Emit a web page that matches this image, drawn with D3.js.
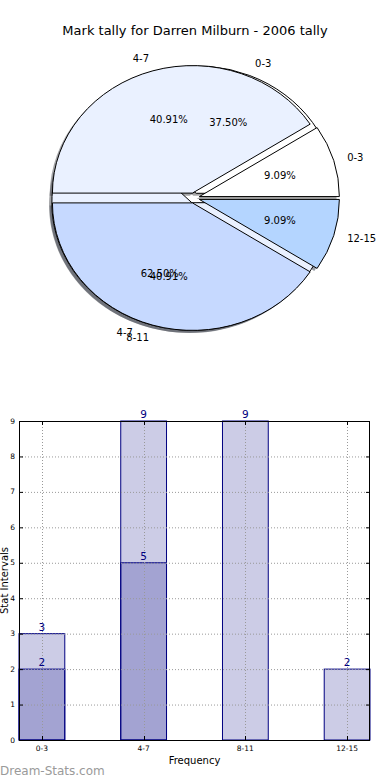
<!DOCTYPE html>
<html><head><meta charset="utf-8">
<script src="https://cdn.jsdelivr.net/npm/d3@7"></script>
<style>body{margin:0;background:#fff}svg{display:block;font-family:"DejaVu Sans",sans-serif}</style>
</head><body>
<svg id="c" width="390" height="780"></svg>
<script>
// ---- data ----
const title = "Mark tally for Darren Milburn - 2006 tally";
const pieLabels1 = ["0-3", "4-7", "8-11", "12-15"];
const pieValues1 = [2, 9, 9, 2];
const pieColors1 = ["#ffffff", "#eaf1ff", "#c6d9ff", "#b4d5ff"];
const pieLabels2 = ["0-3", "4-7"];
const pieValues2 = [3, 5];
const pieColors2 = ["#ffffff", "#eaf1ff"];
const barCategories = ["0-3", "4-7", "8-11", "12-15"];
const barSeriesA = [3, 9, 9, 2];
const barSeriesB = [2, 5, 0, 0];
const yTicks = [0, 1, 2, 3, 4, 5, 6, 7, 8, 9];

const svg = d3.select("#c");
const navy = "#000080";

// title
svg.append("text").attr("x", 195).attr("y", 35).attr("text-anchor", "middle")
  .attr("font-size", 13).text(title);

// ---- pie ----
const cx = 194, cy = 198, Rx = 140, Ry = 127.5, explode = 0.04;
const px = d3.scaleLinear().domain([-1, 1]).range([cx - Rx, cx + Rx]);
const py = d3.scaleLinear().domain([-1, 1]).range([cy + Ry, cy - Ry]);
const pieGen = d3.pie().sort(null).startAngle(Math.PI / 2).endAngle(Math.PI / 2 - 2 * Math.PI);
const arc = d3.arc().innerRadius(0).outerRadius(1);
const g = svg.append("g").attr("transform", `translate(${cx},${cy}) scale(${Rx},${Ry})`);

function prep(values, labels, colors) {
  return pieGen(values).map((d, i) => {
    const mid = (d.startAngle + d.endAngle) / 2;
    return Object.assign(d, {label: labels[i], color: colors[i],
      ux: Math.sin(mid), uy: Math.cos(mid),
      pct: d.value / d3.sum(values) * 100});
  });
}
const arcs1 = prep(pieValues1, pieLabels1, pieColors1);
const arcs2 = prep(pieValues2, pieLabels2, pieColors2);

function shade(c) { const r = d3.rgb(c); return d3.rgb(r.r * 0.3, r.g * 0.3, r.b * 0.3).toString(); }

// shadows
[arcs2, arcs1].forEach(arcs => {
  g.selectAll(null).data(arcs).enter().append("path")
    .attr("d", arc)
    .attr("transform", d => `translate(${d.ux * explode - 0.02},${-d.uy * explode + 0.02})`)
    .attr("fill", d => shade(d.color)).attr("fill-opacity", 0.5).attr("stroke", "none");
});
// wedges
[arcs2, arcs1].forEach(arcs => {
  g.selectAll(null).data(arcs).enter().append("path")
    .attr("d", arc)
    .attr("transform", d => `translate(${d.ux * explode},${-d.uy * explode})`)
    .attr("fill", d => d.color).attr("stroke", "#000").attr("stroke-width", 1)
    .attr("vector-effect", "non-scaling-stroke");
});
// texts
[arcs2, arcs1].forEach(arcs => {
  svg.selectAll(null).data(arcs).enter().append("text")
    .attr("x", d => px(d.ux * (1.1 + explode)))
    .attr("y", d => py(d.uy * (1.1 + explode)))
    .attr("text-anchor", d => d.ux > 0 ? "start" : "end")
    .attr("dominant-baseline", "central")
    .attr("font-size", 10).text(d => d.label);
  svg.selectAll(null).data(arcs).enter().append("text")
    .attr("x", d => px(d.ux * (0.6 + explode)))
    .attr("y", d => py(d.uy * (0.6 + explode)))
    .attr("text-anchor", "middle").attr("dominant-baseline", "central")
    .attr("font-size", 10).text(d => d.pct.toFixed(2) + "%");
});

// ---- bars ----
const L = 19, R = 370, T = 421, B = 740, bw = 0.45;
const x = d3.scaleLinear().domain([0, 3.45]).range([L, R]);
const y = d3.scaleLinear().domain([0, 9]).range([B, T]);
const bg = svg.append("g");

[barSeriesA, barSeriesB].forEach(series => {
  bg.selectAll(null).data(series.map((v, i) => ({v, i})).filter(d => d.v > 0)).enter()
    .append("rect")
    .attr("x", d => x(d.i)).attr("width", d => x(d.i + bw) - x(d.i))
    .attr("y", d => y(d.v)).attr("height", d => y(0) - y(d.v))
    .attr("fill", navy).attr("fill-opacity", 0.2)
    .attr("stroke", navy).attr("stroke-width", 1);
});

// grid
const grid = svg.append("g").attr("stroke", "#999").attr("stroke-width", 1).attr("stroke-dasharray", "1,2");
grid.selectAll(null).data(yTicks).enter().append("line")
  .attr("x1", L).attr("x2", R).attr("y1", d => y(d) + 0.5).attr("y2", d => y(d) + 0.5);
grid.selectAll(null).data(barCategories).enter().append("line")
  .attr("x1", (d, i) => Math.round(x(i + bw / 2)) + 0.5).attr("x2", (d, i) => Math.round(x(i + bw / 2)) + 0.5)
  .attr("y1", T).attr("y2", B);

// frame
svg.append("rect").attr("x", L + 0.5).attr("y", T + 0.5).attr("width", R - L - 1).attr("height", B - T)
  .attr("fill", "none").attr("stroke", "#000").attr("stroke-width", 1);

// ticks
const tk = svg.append("g").attr("stroke", "#000").attr("stroke-width", 1);
yTicks.forEach(t => {
  tk.append("line").attr("x1", L).attr("x2", L + 4).attr("y1", y(t) + 0.5).attr("y2", y(t) + 0.5);
  tk.append("line").attr("x1", R - 4).attr("x2", R).attr("y1", y(t) + 0.5).attr("y2", y(t) + 0.5);
});
barCategories.forEach((c, i) => {
  const xx = Math.round(x(i + bw / 2)) + 0.5;
  tk.append("line").attr("x1", xx).attr("x2", xx).attr("y1", B).attr("y2", B - 4);
  tk.append("line").attr("x1", xx).attr("x2", xx).attr("y1", T).attr("y2", T + 4);
});

// tick labels
svg.selectAll(null).data(yTicks).enter().append("text")
  .attr("x", 15).attr("y", d => y(d)).attr("text-anchor", "end").attr("dominant-baseline", "central")
  .attr("font-size", 7.5).text(d => d);
svg.selectAll(null).data(barCategories).enter().append("text")
  .attr("x", (d, i) => x(i + bw / 2)).attr("y", B + 8).attr("text-anchor", "middle")
  .attr("dominant-baseline", "central").attr("font-size", 7.5).text(d => d);

// value labels
[barSeriesA, barSeriesB].forEach(series => {
  svg.selectAll(null).data(series.map((v, i) => ({v, i})).filter(d => d.v > 0)).enter()
    .append("text")
    .attr("x", d => x(d.i + bw / 2)).attr("y", d => y(d.v) - 3)
    .attr("text-anchor", "middle").attr("font-size", 10.5).attr("fill", navy).text(d => d.v);
});

// axis labels
svg.append("text").attr("x", (L + R) / 2).attr("y", 764).attr("text-anchor", "middle")
  .attr("font-size", 10).text("Frequency");
svg.append("text").attr("transform", `translate(8,${(T + B) / 2}) rotate(-90)`)
  .attr("text-anchor", "middle").attr("font-size", 10).text("Stat Intervals");

// watermark
svg.append("text").attr("x", 0).attr("y", 775).attr("font-size", 12).attr("fill", "#9a9a9a")
  .text("Dream-Stats.com");
</script>
</body></html>
